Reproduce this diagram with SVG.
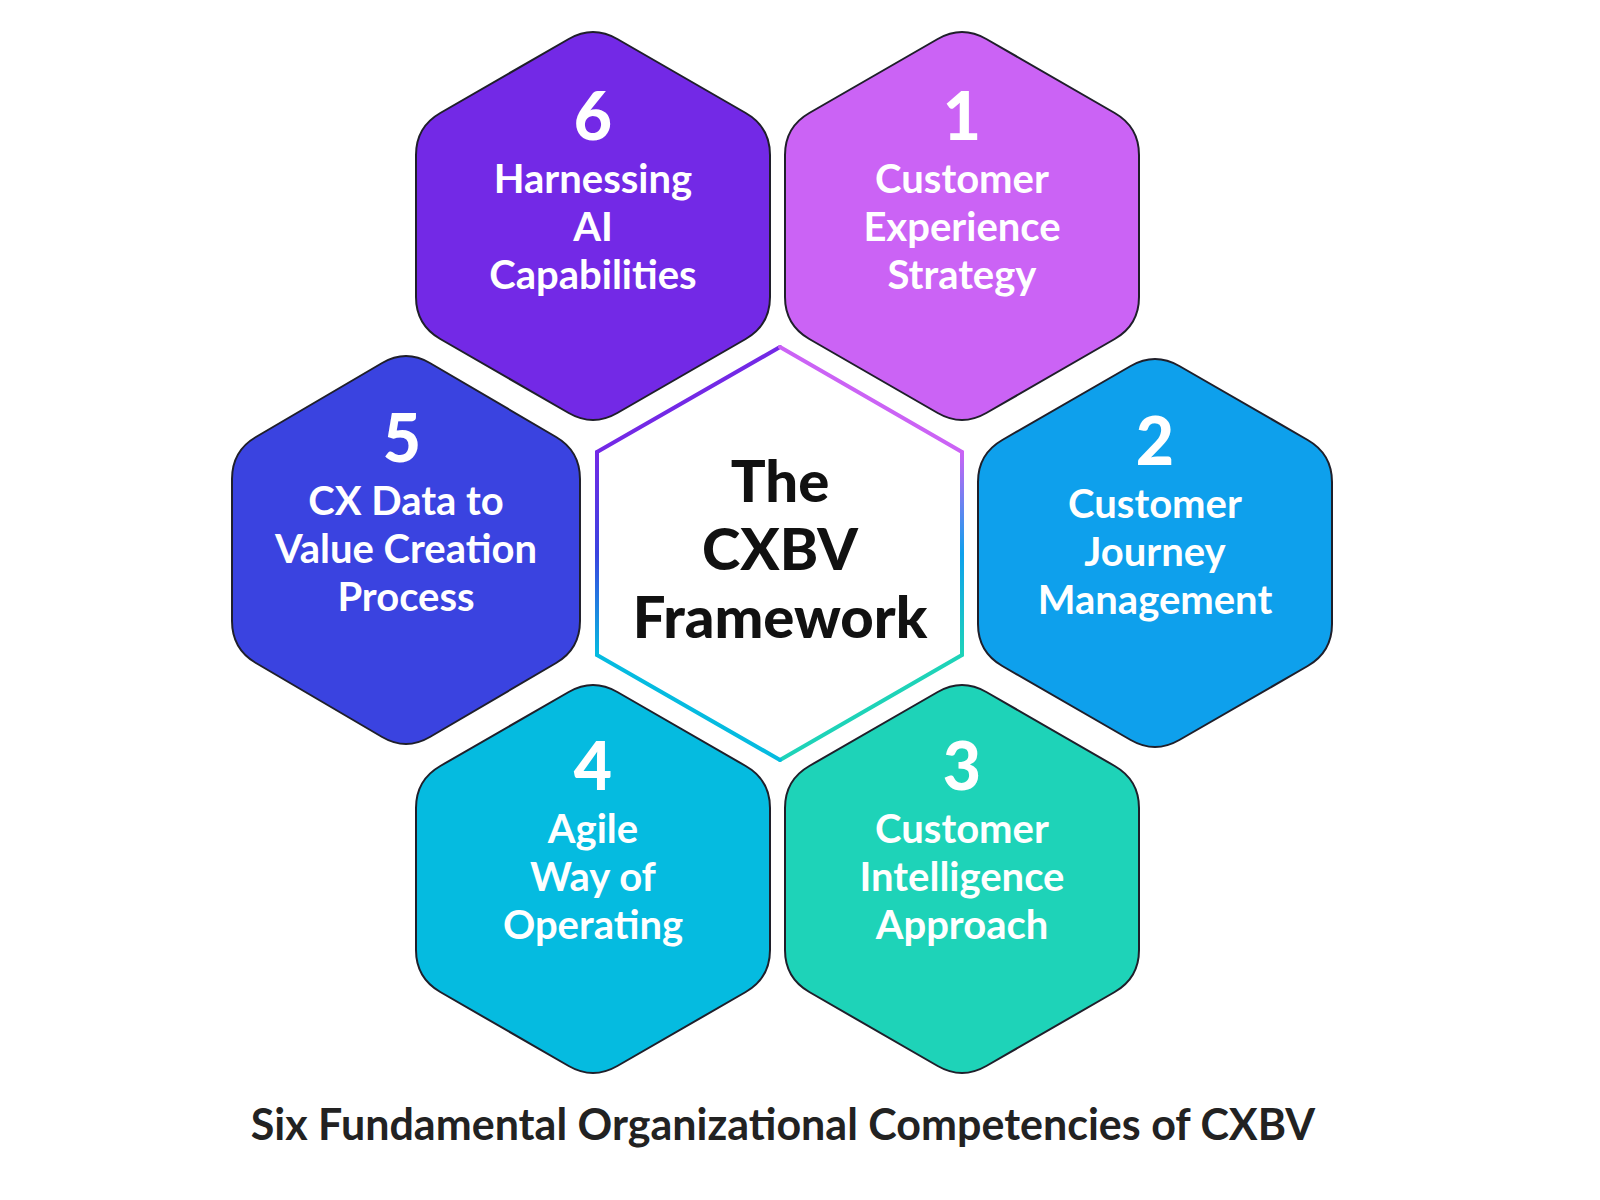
<svg xmlns="http://www.w3.org/2000/svg" width="1600" height="1200" viewBox="0 0 1600 1200">
<style>
.hx{stroke:#1f1f2a;stroke-width:2}
.num{font-family:Lato,"Open Sans",sans-serif;font-weight:900;font-size:66px;fill:#fff;text-anchor:middle}
.lb{font-family:Lato,"Open Sans",sans-serif;font-weight:700;font-size:40px;fill:#fff;text-anchor:middle}
.ct{font-family:Lato,"Open Sans",sans-serif;font-weight:900;font-size:58px;fill:#111;text-anchor:middle}
.cap{font-family:Lato,"Open Sans",sans-serif;font-weight:700;font-size:43px;fill:#222;text-anchor:middle}
.e{stroke-width:4;fill:none;stroke-linecap:round}
</style>
<defs>
<path id="hex" d="M -24.3,-187 Q 0,-201 24.3,-187 L 152.7,-113 Q 177,-99 177,-71 L 177,71 Q 177,99 152.7,113 L 24.3,187 Q 0,201 -24.3,187 L -152.7,113 Q -177,99 -177,71 L -177,-71 Q -177,-99 -152.7,-113 Z"/>
<linearGradient id="gr" gradientUnits="userSpaceOnUse" x1="0" y1="452" x2="0" y2="655"><stop offset="0" stop-color="#CB63F5"/><stop offset="0.5" stop-color="#0EA0EC"/><stop offset="1" stop-color="#1ED3B8"/></linearGradient>
<linearGradient id="gl" gradientUnits="userSpaceOnUse" x1="0" y1="452" x2="0" y2="655"><stop offset="0" stop-color="#7329E6"/><stop offset="0.5" stop-color="#3A43E0"/><stop offset="1" stop-color="#05BBE0"/></linearGradient>
</defs>
<rect width="1600" height="1200" fill="#fff"/>
<g id="hex6"><use href="#hex" transform="translate(593,226)" fill="#7329E6" class="hx"/>
<text class="num" x="593" y="140">6</text><text class="lb" x="593" y="193">Harnessing</text><text class="lb" x="593" y="241">AI</text><text class="lb" x="593" y="289">Capabilities</text></g>
<g id="hex1"><use href="#hex" transform="translate(962,226)" fill="#CB63F5" class="hx"/>
<text class="num" x="962" y="140">1</text><text class="lb" x="962" y="193">Customer</text><text class="lb" x="962" y="241">Experience</text><text class="lb" x="962" y="289">Strategy</text></g>
<g id="hex2"><use href="#hex" transform="translate(1155,553)" fill="#0EA0EC" class="hx"/>
<text class="num" x="1155" y="465">2</text><text class="lb" x="1155" y="518">Customer</text><text class="lb" x="1155" y="566">Journey</text><text class="lb" x="1155" y="614">Management</text></g>
<g id="hex5"><use href="#hex" transform="translate(406,550) scale(0.983,1)" fill="#3A43E0" class="hx"/>
<text class="num" x="402" y="462">5</text><text class="lb" x="406" y="515">CX Data to</text><text class="lb" x="406" y="563">Value Creation</text><text class="lb" x="406" y="611">Process</text></g>
<g id="hex4"><use href="#hex" transform="translate(593,879)" fill="#05BBE0" class="hx"/>
<text class="num" x="593" y="790">4</text><text class="lb" x="593" y="843">Agile</text><text class="lb" x="593" y="891">Way of</text><text class="lb" x="593" y="939">Operating</text></g>
<g id="hex3"><use href="#hex" transform="translate(962,879)" fill="#1ED3B8" class="hx"/>
<text class="num" x="962" y="790">3</text><text class="lb" x="962" y="843">Customer</text><text class="lb" x="962" y="891">Intelligence</text><text class="lb" x="962" y="939">Approach</text></g>
<g id="center">
<polygon points="780,347 962,452 962,655 780,760 597,655 597,452" fill="#fff"/>
<path class="e" d="M780,347 L597,452" stroke="#7329E6"/>
<path class="e" d="M780,347 L962,452" stroke="#CB63F5"/>
<path class="e" d="M962,452 L962,655" stroke="url(#gr)"/>
<path class="e" d="M597,452 L597,655" stroke="url(#gl)"/>
<path class="e" d="M962,655 L780,760" stroke="#1ED3B8"/>
<path class="e" d="M597,655 L780,760" stroke="#05BBE0"/>
<text class="ct" x="780" y="502">The</text><text class="ct" x="780" y="570">CXBV</text><text class="ct" x="780" y="638">Framework</text>
</g>
<g id="connectors"/>
<text class="cap" x="783" y="1140">Six Fundamental Organizational Competencies of CXBV</text>
</svg>
